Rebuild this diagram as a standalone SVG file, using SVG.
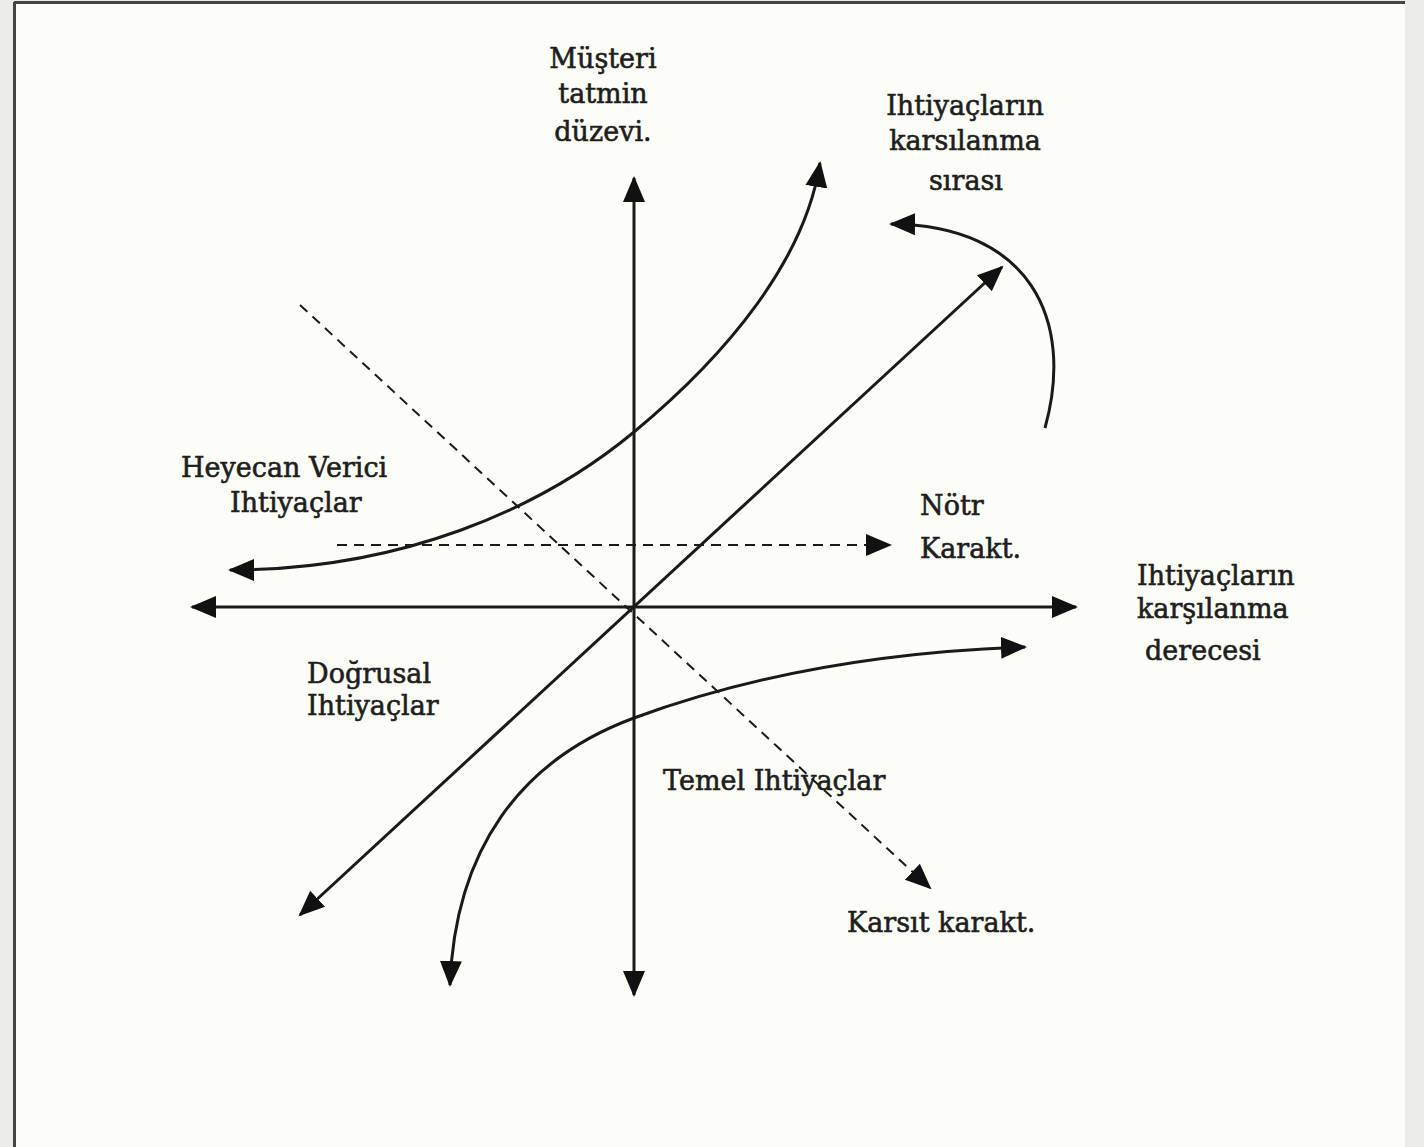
<svg xmlns="http://www.w3.org/2000/svg" width="1424" height="1147" viewBox="0 0 1424 1147">
  <style>
    .ln { fill: none; stroke: #1a1a1a; stroke-width: 3; }
    .dash { fill: none; stroke: #1a1a1a; stroke-width: 2; stroke-dasharray: 10 7; }
    .t { font-family: "DejaVu Serif", "Liberation Serif", serif; font-size: 27px; fill: #1e1e1e; stroke: #1e1e1e; stroke-width: 0.6; }
    .c { text-anchor: middle; }
  </style>
  <defs>
    <marker id="ah" markerUnits="userSpaceOnUse" markerWidth="28" markerHeight="24" refX="24" refY="12" orient="auto-start-reverse" viewBox="0 0 28 24">
      <path d="M0,1 L26,12 L0,23 Z" fill="#111"/>
    </marker>
  </defs>
  <rect x="0" y="0" width="1424" height="1147" fill="#ebebe7"/>
  <rect x="14" y="2" width="1391" height="1145" fill="#fdfdf8"/>
  <line x1="14" y1="2.5" x2="1405" y2="2.5" stroke="#444" stroke-width="3"/>
  <line x1="14.5" y1="2" x2="14.5" y2="1147" stroke="#444" stroke-width="3"/>

  <g id="connectors">
    <line id="axis-v" class="ln" x1="634" y1="995" x2="634" y2="178" marker-start="url(#ah)" marker-end="url(#ah)"/>
    <line id="axis-h" class="ln" x1="192" y1="607" x2="1076" y2="607" marker-start="url(#ah)" marker-end="url(#ah)"/>
    <line id="diag-linear" class="ln" x1="300" y1="915" x2="1002" y2="267" marker-start="url(#ah)" marker-end="url(#ah)"/>
    <line id="diag-dashed" class="dash" x1="300" y1="305" x2="930" y2="888" marker-end="url(#ah)"/>
    <line id="neutral-dashed" class="dash" x1="337" y1="545" x2="890" y2="545" marker-end="url(#ah)"/>
    <path id="curve-excite" class="ln" d="M230,570 C400,570 540,510 634,432 S805,260 820,163" marker-start="url(#ah)" marker-end="url(#ah)"/>
    <path id="curve-basic" class="ln" d="M450,985 C455,850 520,760 634,718 S880,652 1025,647" marker-start="url(#ah)" marker-end="url(#ah)"/>
    <path id="curve-order" class="ln" d="M1045,428 C1075,320 1030,225 891,224" marker-end="url(#ah)"/>
  </g>

  <g id="label-musteri">
    <text class="t c" x="603" y="68">Müşteri</text>
    <text class="t c" x="603" y="103">tatmin</text>
    <text class="t c" x="603" y="141">düzevi.</text>
  </g>
  <g id="label-sirasi">
    <text class="t c" x="965" y="115">Ihtiyaçların</text>
    <text class="t c" x="965" y="150">karsılanma</text>
    <text class="t c" x="966" y="190">sırası</text>
  </g>
  <g id="label-derecesi">
    <text class="t" x="1137" y="585">Ihtiyaçların</text>
    <text class="t" x="1137" y="618">karşılanma</text>
    <text class="t" x="1145" y="660">derecesi</text>
  </g>
  <g id="label-heyecan">
    <text class="t" x="181" y="477">Heyecan Verici</text>
    <text class="t" x="230" y="512">Ihtiyaçlar</text>
  </g>
  <g id="label-dogrusal">
    <text class="t" x="307" y="683">Doğrusal</text>
    <text class="t" x="307" y="715">Ihtiyaçlar</text>
  </g>
  <g id="label-temel">
    <text class="t" x="663" y="790">Temel Ihtiyaçlar</text>
  </g>
  <g id="label-notr">
    <text class="t" x="920" y="515">Nötr</text>
    <text class="t" x="920" y="558">Karakt.</text>
  </g>
  <g id="label-karsit">
    <text class="t" x="847" y="932">Karsıt karakt.</text>
  </g>
</svg>
